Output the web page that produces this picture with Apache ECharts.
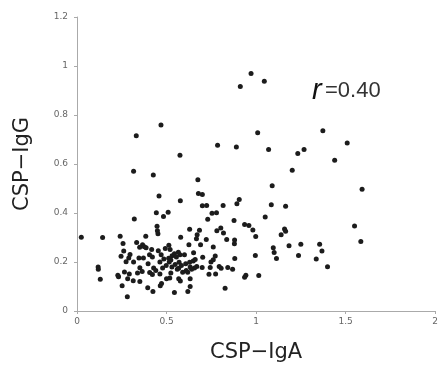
<!DOCTYPE html>
<html><head><meta charset="utf-8">
<script src="https://cdn.jsdelivr.net/npm/echarts@6/dist/echarts.min.js"></script>
<style>html,body{margin:0;padding:0;background:#fff}#c{width:441px;height:368px}</style>
</head><body><div id="c"></div>
<script>
var xTicks = [0, 0.5, 1, 1.5, 2];
var yTicks = [0, 0.2, 0.4, 0.6, 0.8, 1, 1.2];
var igA = [0.024,0.143,0.912,0.972,1.046,1.373,0.469,0.331,1.009,1.509,0.785,0.890,1.070,1.268,1.233,0.575,1.439,0.316,1.202,0.426,0.675,1.090,1.592,0.458,0.678,0.700,0.577,0.906,0.893,0.700,0.724,0.816,1.085,1.165,0.779,0.754,0.443,0.509,0.483,0.320,0.730,1.051,0.877,1.550,0.447,0.449,0.629,0.684,0.781,0.803,0.936,0.960,0.982,1.159,1.165,0.452,0.384,0.241,0.579,0.671,0.818,0.998,0.836,1.140,0.333,0.667,0.722,1.585,0.257,0.879,1.184,1.250,1.355,1.096,0.761,0.625,0.513,0.366,0.386,0.261,0.417,0.454,0.493,0.520,0.651,1.368,1.101,0.996,1.237,0.772,0.702,0.296,0.246,0.289,0.346,0.371,0.421,0.531,0.544,0.555,0.575,0.881,1.114,1.336,0.274,0.316,0.397,0.463,0.485,0.515,0.524,0.570,0.607,0.629,0.649,0.669,0.748,0.761,1.399,0.118,0.119,0.130,0.351,0.428,0.478,0.498,0.568,0.583,0.632,0.656,0.699,0.744,0.794,0.805,0.842,0.869,0.228,0.265,0.292,0.338,0.364,0.406,0.421,0.463,0.524,0.590,0.610,0.618,0.737,0.774,0.943,0.936,1.015,0.283,0.314,0.351,0.500,0.518,0.568,0.577,0.632,0.252,0.395,0.465,0.472,0.632,0.827,0.424,0.544,0.619,0.281,0.376,0.405,0.548,0.566,0.640,0.690,0.880,0.470,0.530,0.660,0.600,0.350,0.440,0.560,0.232,0.512];
var igG = [0.301,0.300,0.916,0.969,0.938,0.736,0.759,0.715,0.728,0.686,0.677,0.669,0.659,0.659,0.643,0.636,0.615,0.570,0.574,0.555,0.536,0.511,0.497,0.469,0.480,0.476,0.450,0.455,0.438,0.430,0.431,0.431,0.434,0.428,0.401,0.399,0.401,0.403,0.386,0.376,0.374,0.384,0.369,0.347,0.346,0.328,0.334,0.330,0.328,0.339,0.353,0.349,0.331,0.335,0.326,0.315,0.305,0.305,0.301,0.311,0.318,0.304,0.292,0.311,0.280,0.295,0.292,0.284,0.276,0.274,0.266,0.272,0.272,0.258,0.261,0.270,0.268,0.270,0.258,0.245,0.251,0.246,0.255,0.251,0.238,0.245,0.239,0.227,0.227,0.224,0.219,0.231,0.223,0.216,0.216,0.216,0.220,0.226,0.234,0.220,0.230,0.214,0.214,0.212,0.201,0.200,0.193,0.200,0.212,0.200,0.208,0.199,0.193,0.199,0.204,0.182,0.200,0.209,0.181,0.180,0.170,0.130,0.177,0.176,0.176,0.186,0.174,0.186,0.180,0.176,0.178,0.178,0.182,0.174,0.178,0.170,0.146,0.159,0.151,0.155,0.161,0.157,0.149,0.151,0.155,0.158,0.165,0.158,0.150,0.151,0.146,0.138,0.145,0.132,0.123,0.120,0.132,0.135,0.132,0.122,0.132,0.103,0.095,0.103,0.112,0.100,0.093,0.080,0.076,0.080,0.058,0.262,0.230,0.190,0.240,0.170,0.270,0.290,0.230,0.180,0.210,0.230,0.260,0.165,0.170,0.140,0.215,0.140];
var points = igA.map(function (v, i) { return [v, igG[i]]; });

var chart = echarts.init(document.getElementById('c'));
var tickColor = '#666';
var fontT = '"DejaVu Sans", sans-serif';
chart.setOption({
  animation: false,
  grid: { left: 77, right: 1, top: 17, bottom: 55, containLabel: false },
  xAxis: {
    type: 'value', min: xTicks[0], max: xTicks[xTicks.length - 1], interval: 0.5,
    name: 'CSP\u2212IgA', nameLocation: 'middle', nameGap: 31,
    nameTextStyle: { fontSize: 21, color: '#222', fontFamily: fontT },
    axisLine: { lineStyle: { color: '#aaa', width: 1 } },
    axisTick: { show: true, length: 3, lineStyle: { color: '#aaa' } },
    axisLabel: { fontSize: 9, color: tickColor, margin: 6, fontFamily: 'DejaVu Sans' },
    splitLine: { show: false }
  },
  yAxis: {
    type: 'value', min: yTicks[0], max: yTicks[yTicks.length - 1], interval: 0.2,
    name: 'CSP\u2212IgG', nameLocation: 'middle', nameGap: 44, nameRotate: 90,
    nameTextStyle: { fontSize: 21, color: '#222', fontFamily: fontT },
    axisLine: { show: true, lineStyle: { color: '#aaa', width: 1 } },
    axisTick: { show: true, length: 3, lineStyle: { color: '#aaa' } },
    axisLabel: { fontSize: 9, color: tickColor, margin: 9, fontFamily: 'DejaVu Sans',
      formatter: function (v) { return String(Math.round(v * 10) / 10); } },
    splitLine: { show: false }
  },
  graphic: [{
    type: 'text', left: 312, top: 76,
    style: {
      text: '{r|r} {n|=0.40}',
      rich: {
        r: { fontSize: 29, fontStyle: 'italic', fontFamily: 'Liberation Sans', fill: '#111' },
        n: { fontSize: 22, fontFamily: 'Liberation Sans', fill: '#333' }
      }
    }
  }],
  series: [{
    type: 'scatter', data: points, symbolSize: 5,
    itemStyle: { color: '#1c1c1c', opacity: 1 }
  }]
});
</script></body></html>
